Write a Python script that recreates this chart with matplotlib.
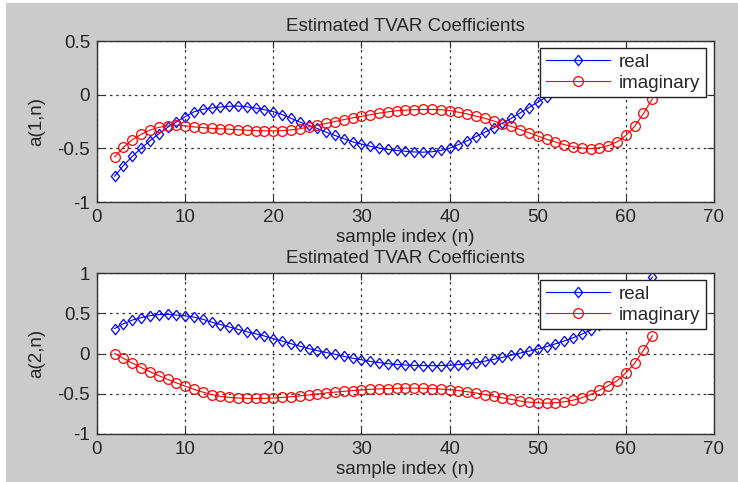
import numpy as np
import matplotlib
matplotlib.use("Agg")
import matplotlib.pyplot as plt
from matplotlib.patches import Rectangle

# sample index
n = list(range(2, 64))

# a(1,n)
a1_real = [-0.76, -0.66, -0.575, -0.50, -0.43, -0.365, -0.305, -0.255, -0.205, -0.16,
           -0.137, -0.124, -0.115, -0.108, -0.106, -0.113, -0.125, -0.14, -0.158, -0.185,
           -0.22, -0.255, -0.285, -0.315, -0.35, -0.38, -0.41, -0.44, -0.46, -0.48,
           -0.497, -0.51, -0.52, -0.528, -0.534, -0.536, -0.532, -0.52, -0.50, -0.465,
           -0.43, -0.39, -0.35, -0.31, -0.265, -0.22, -0.17, -0.12, -0.07, -0.02,
           0.03, 0.08, 0.13, 0.18, 0.22, 0.26, 0.29, 0.31, 0.33, 0.34,
           0.35, 0.36]
a1_imag = [-0.58, -0.49, -0.42, -0.37, -0.33, -0.305, -0.29, -0.285, -0.29, -0.30,
           -0.307, -0.314, -0.318, -0.322, -0.327, -0.331, -0.335, -0.337, -0.337, -0.335,
           -0.328, -0.318, -0.30, -0.285, -0.268, -0.25, -0.232, -0.216, -0.202, -0.187,
           -0.172, -0.16, -0.15, -0.144, -0.14, -0.138, -0.138, -0.14, -0.148, -0.163,
           -0.18, -0.20, -0.22, -0.245, -0.27, -0.295, -0.325, -0.355, -0.385, -0.415,
           -0.44, -0.465, -0.485, -0.497, -0.503, -0.495, -0.475, -0.44, -0.38, -0.295,
           -0.175, -0.04]

# a(2,n)
a2_real = [0.31, 0.37, 0.415, 0.445, 0.47, 0.483, 0.485, 0.477, 0.468, 0.452,
           0.425, 0.39, 0.36, 0.33, 0.30, 0.27, 0.245, 0.217, 0.185, 0.155,
           0.122, 0.092, 0.062, 0.035, 0.012, -0.01, -0.035, -0.058, -0.078, -0.098,
           -0.113, -0.127, -0.136, -0.143, -0.148, -0.15, -0.152, -0.15, -0.146, -0.138,
           -0.128, -0.113, -0.095, -0.073, -0.048, -0.022, 0.005, 0.03, 0.055, 0.085,
           0.12, 0.155, 0.195, 0.24, 0.29, 0.36, 0.42, 0.49, 0.57, 0.67,
           0.79, 0.95]
a2_imag = [0.0, -0.06, -0.12, -0.175, -0.225, -0.275, -0.32, -0.365, -0.405, -0.445,
           -0.48, -0.51, -0.532, -0.545, -0.553, -0.557, -0.558, -0.557, -0.553, -0.545,
           -0.537, -0.527, -0.515, -0.503, -0.49, -0.48, -0.47, -0.46, -0.452, -0.445,
           -0.44, -0.435, -0.432, -0.43, -0.43, -0.432, -0.436, -0.442, -0.45, -0.46,
           -0.475, -0.49, -0.51, -0.53, -0.55, -0.57, -0.59, -0.605, -0.612, -0.617,
           -0.612, -0.60, -0.58, -0.55, -0.51, -0.455, -0.40, -0.34, -0.24, -0.12,
           0.04, 0.22]

plt.rcParams['font.family'] = ['Liberation Sans', 'DejaVu Sans']
fs = 13.5
txt = '#262626'
# matlab style diamond, a little taller than wide
diamond = [(0, 1), (0.8, 0), (0, -1), (-0.8, 0), (0, 1)]

fig = plt.figure(figsize=(7.38, 4.82), dpi=100, facecolor='white')
fig.patches.append(Rectangle((6 / 738, 0), 1, 1 - 3 / 482, transform=fig.transFigure,
                             facecolor='#cbcbcb', edgecolor='none', zorder=-1))

ax1 = fig.add_axes([97 / 738, 1 - 202 / 482, 617 / 738, 161 / 482])
ax2 = fig.add_axes([97 / 738, 1 - 434 / 482, 617 / 738, 161 / 482])


def style(ax, ylim, yticks, ylab):
    ax.set_xlim(0, 70)
    ax.set_ylim(*ylim)
    ax.set_xticks(range(0, 71, 10))
    ax.set_yticks(yticks)
    ax.set_yticklabels([('%g' % t) for t in yticks])
    ax.grid(True, color='#333333', linestyle=(0, (2, 3)), linewidth=0.9)
    ax.tick_params(direction='in', top=True, right=True, length=5, width=0.8,
                   colors='#333333', labelcolor=txt, labelsize=fs, pad=5)
    for s in ax.spines.values():
        s.set_color('#333333')
        s.set_linewidth(1.0)
    ax.set_title('Estimated TVAR Coefficients', fontsize=fs, color=txt, pad=7.5)
    ax.set_xlabel('sample index (n)', fontsize=fs, color=txt, labelpad=2)
    ax.set_ylabel(ylab, fontsize=fs, color=txt, labelpad=9)


for ax, re, im, ylim, yticks, ylab in [
        (ax1, a1_real, a1_imag, (-1, 0.5), [-1, -0.5, 0, 0.5], 'a(1,n)'),
        (ax2, a2_real, a2_imag, (-1, 1), [-1, -0.5, 0, 0.5, 1], 'a(2,n)')]:
    ax.plot(n, re, color='#0000ff', lw=0.8, marker=diamond, ms=7.5, mfc='none', mew=0.9, label='real')
    ax.plot(n, im, color='#ff0000', lw=0.8, marker='o', ms=7, mfc='none', mew=0.9, label='imaginary')
    style(ax, ylim, yticks, ylab)
    leg = ax.legend(loc='upper right', bbox_to_anchor=(0.987, 0.957), borderaxespad=0,
                    fancybox=False, framealpha=1, edgecolor='#222222', fontsize=fs,
                    handlelength=3.4, borderpad=0.3, labelspacing=0.2, handletextpad=0.5)
    leg.get_frame().set_linewidth(1.0)
    for t in leg.get_texts():
        t.set_color(txt)

fig.savefig('out.png', dpi=100, facecolor=fig.get_facecolor())
